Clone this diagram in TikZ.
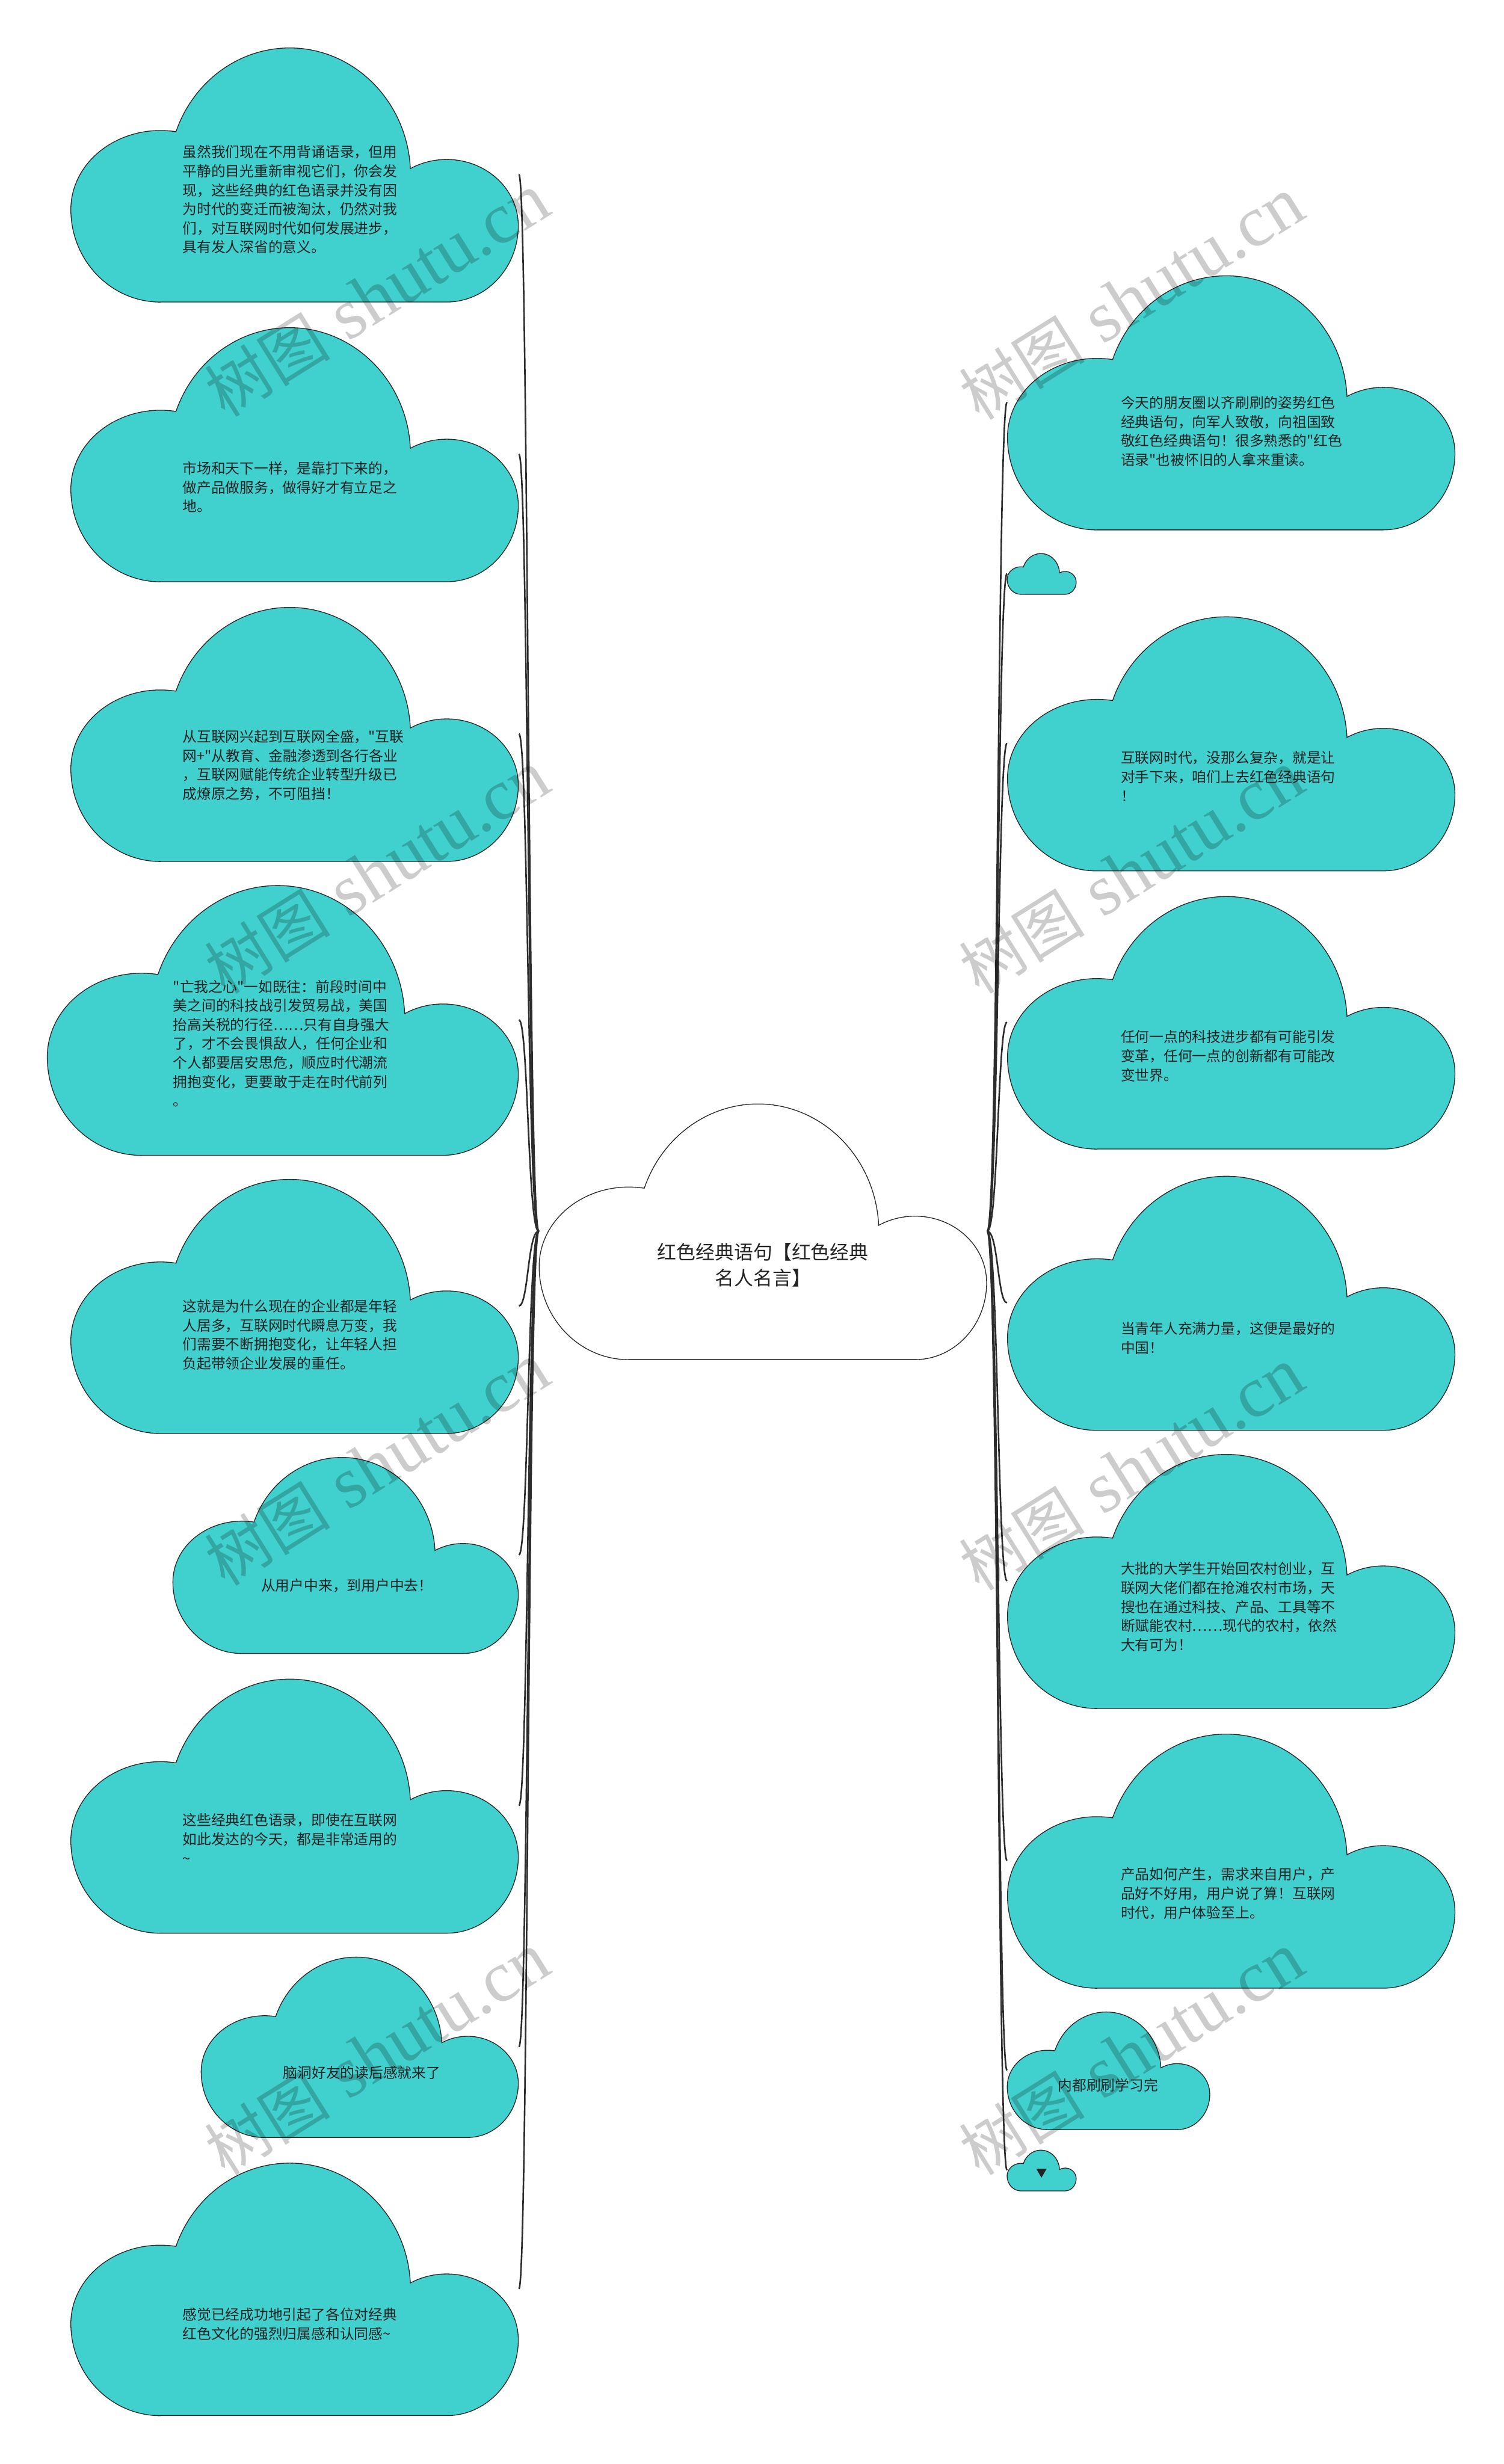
\documentclass[tikz,border=0pt]{standalone}
\usepackage{fontspec}
\newfontfamily\cjk{Noto Sans CJK SC}
\newfontfamily\wmlatin{Liberation Serif}
\usetikzlibrary{positioning}

\definecolor{cloudteal}{RGB}{64,208,206}
\definecolor{linkgray}{RGB}{45,45,45}
\definecolor{quotetext}{RGB}{35,35,35}

\tikzset{
  cloudbox/.style={inner sep=0pt, draw=none},
  leafcloud/.style={fill=cloudteal, draw=black!85, line width=0.5pt},
  rootcloud/.style={fill=white, draw=black!85, line width=0.5pt},
  quote/.style={font=\cjk\fontsize{9.1}{12.1}\selectfont, text=quotetext, align=left, inner sep=0pt, anchor=west},
  link/.style={draw=linkgray, line width=1pt},
  watermark/.style={rotate=32, text=black, text opacity=0.2, inner sep=0pt}
}

% cloud: [style]{name}{cx}{cy}{width}{height}
\newcommand{\drawcloud}[6][leafcloud]{%
  \node[cloudbox, minimum width=#5pt, minimum height=#6pt] (#2) at (#3,#4) {};
  \begin{scope}[shift={(#2.south west)}, x=#5pt, y=#6pt]
    \path[#1] (0.201,0) -- (0.84,0)
      arc[start angle=-90, end angle=0, x radius=0.16, y radius=0.30]
      arc[start angle=0, end angle=120.4, x radius=0.16, y radius=0.26]
      arc[start angle=3, end angle=160, x radius=0.27, y radius=0.5]
      arc[start angle=80, end angle=180, x radius=0.2, y radius=0.31]
      arc[start angle=180, end angle=270, x radius=0.2, y radius=0.364]
      -- cycle;
  \end{scope}}

\begin{document}
\begin{tikzpicture}[x=1pt, y=-1pt]
\useasboundingbox (0,0) rectangle (957,1568);

% root
\drawcloud[rootcloud]{root}{485.5}{783.5}{285}{163}
\node[font=\cjk\fontsize{12.2}{16.5}\selectfont, text=quotetext, align=center, inner sep=0pt] (roott) at (485.5,805) {红色经典语句【红色经典\\名人名言】};

% left side
\drawcloud{l1}{187.5}{111}{285}{162}
\drawcloud{l2}{187.5}{289}{285}{162}
\drawcloud{l3}{187.5}{467}{285}{162}
\drawcloud{l4}{180}{649}{300}{172}
\drawcloud{l5}{187.5}{831}{285}{162}
\drawcloud{l6}{220}{989.5}{220}{125}
\drawcloud{l7}{187.5}{1149}{285}{162}
\drawcloud{l8}{229}{1302.5}{202}{115}
\drawcloud{l9}{187.5}{1456.5}{285}{161}

\node[quote] (l1t) at (116,127) {虽然我们现在不用背诵语录，但用\\平静的目光重新审视它们，你会发\\现，这些经典的红色语录并没有因\\为时代的变迁而被淘汰，仍然对我\\们，对互联网时代如何发展进步，\\具有发人深省的意义。};
\node[quote] (l2t) at (116,310) {市场和天下一样，是靠打下来的，\\做产品做服务，做得好才有立足之\\地。};
\node[quote] (l3t) at (116,487) {从互联网兴起到互联网全盛，"互联\\网+"从教育、金融渗透到各行各业\\，互联网赋能传统企业转型升级已\\成燎原之势，不可阻挡！};
\node[quote] (l4t) at (110,664) {"亡我之心"一如既往：前段时间中\\美之间的科技战引发贸易战，美国\\抬高关税的行径……只有自身强大\\了，才不会畏惧敌人，任何企业和\\个人都要居安思危，顺应时代潮流\\拥抱变化，更要敢于走在时代前列\\。};
\node[quote] (l5t) at (116,849.5) {这就是为什么现在的企业都是年轻\\人居多，互联网时代瞬息万变，我\\们需要不断拥抱变化，让年轻人担\\负起带领企业发展的重任。};
\node[quote] (l6t) at (166,1009) {从用户中来，到用户中去！};
\node[quote] (l7t) at (116,1170) {这些经典红色语录，即使在互联网\\如此发达的今天，都是非常适用的\\\textasciitilde};
\node[quote] (l8t) at (180,1319) {脑洞好友的读后感就来了};
\node[quote] (l9t) at (116,1479) {感觉已经成功地引起了各位对经典\\红色文化的强烈归属感和认同感\textasciitilde};

% right side
\drawcloud{r1}{783.5}{256}{285}{162}
\drawcloud{r2}{663}{365}{44}{26}
\drawcloud{r3}{783.5}{473}{285}{162}
\drawcloud{r4}{783.5}{650.5}{285}{161}
\drawcloud{r5}{783.5}{829}{285}{162}
\drawcloud{r6}{783.5}{1006}{285}{162}
\drawcloud{r7}{783.5}{1184}{285}{162}
\drawcloud{r8}{705.5}{1317.5}{129}{75}
\drawcloud{r9}{663}{1381}{44}{26}

\node[quote] (r1t) at (713,274.5) {今天的朋友圈以齐刷刷的姿势红色\\经典语句，向军人致敬，向祖国致\\敬红色经典语句！很多熟悉的"红色\\语录"也被怀旧的人拿来重读。};
\node[quote] (r3t) at (713,494) {互联网时代，没那么复杂，就是让\\对手下来，咱们上去红色经典语句\\！};
\node[quote] (r4t) at (713,672) {任何一点的科技进步都有可能引发\\变革，任何一点的创新都有可能改\\变世界。};
\node[quote] (r5t) at (713,851.5) {当青年人充满力量，这便是最好的\\中国！};
\node[quote] (r6t) at (713,1022.5) {大批的大学生开始回农村创业，互\\联网大佬们都在抢滩农村市场，天\\搜也在通过科技、产品、工具等不\\断赋能农村……现代的农村，依然\\大有可为！};
\node[quote] (r7t) at (713,1205) {产品如何产生，需求来自用户，产\\品好不好用，用户说了算！互联网\\时代，用户体验至上。};
\node[quote] (r8t) at (673,1327) {内都刷刷学习完};
\node[font=\cjk\fontsize{7}{8}\selectfont, text=quotetext, inner sep=0pt] (r9t) at (663,1383) {▼};

% links
\foreach \n in {l1,l2,l3,l4,l5,l6,l7,l8,l9}
  \draw[link] (root.west) .. controls +(-7,0) and +(6,0) .. (\n.east);
\foreach \n in {r1,r2,r3,r4,r5,r6,r7,r8,r9}
  \draw[link] (root.east) .. controls +(7,0) and +(-6,0) .. (\n.west);

% watermark
\foreach \wx/\wy [count=\i] in {240/188,720/190,240/555,720/555,240/932,720/935,240/1307,720/1307}
  \node[watermark] (wm\i) at (\wx,\wy) {{\cjk\fontsize{40}{42}\selectfont 树图}\hspace{12pt}{\wmlatin\fontsize{46}{48}\selectfont shutu.cn}};
\end{tikzpicture}
\end{document}
